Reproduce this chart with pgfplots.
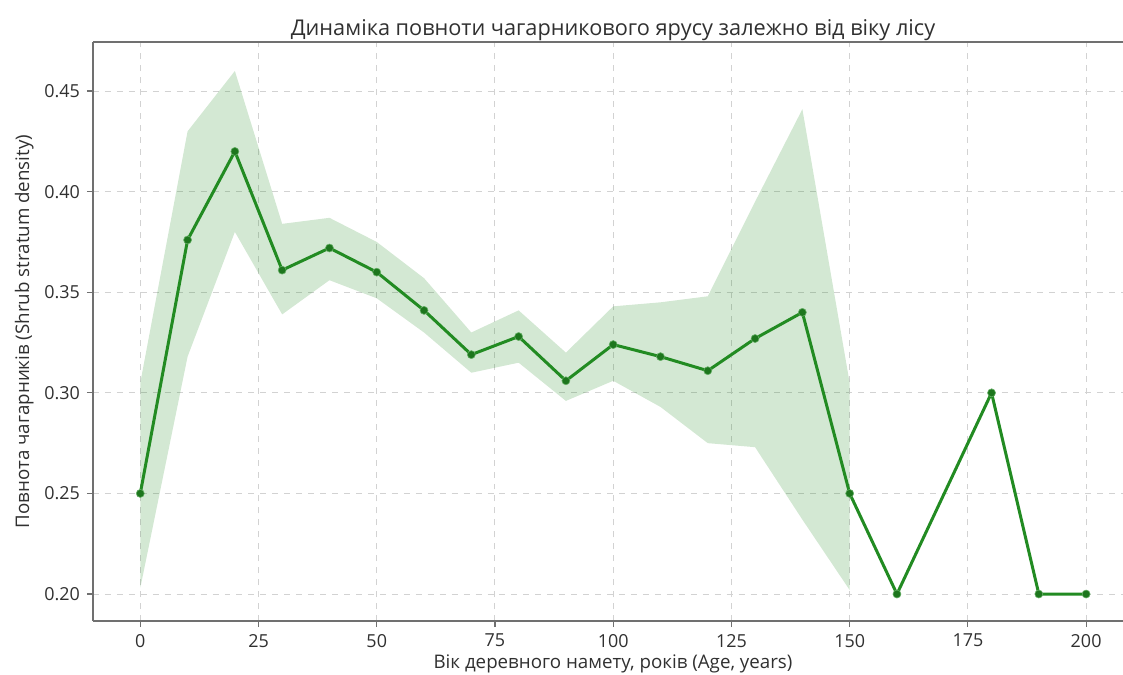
\documentclass[border=0pt]{standalone}
\usepackage{fontspec}
\setmainfont{Open Sans}
\usepackage{pgfplots}
\pgfplotsset{compat=1.18}
\usepgfplotslibrary{fillbetween}
\definecolor{lgreen}{HTML}{228B22}
\definecolor{spine}{HTML}{707070}
\definecolor{txt}{HTML}{303030}
\begin{document}
\begin{tikzpicture}[x=1bp,y=1bp]
\begin{axis}[
  at={(0,0)}, anchor=south west,
  scale only axis,
  width=515bp, height=289.5bp,
  xmin=-10, xmax=207.8,
  ymin=0.1866, ymax=0.4744,
  axis lines*=left,
  xtick={0,25,50,75,100,125,150,175,200},
  ytick={0.20,0.25,0.30,0.35,0.40,0.45},
  yticklabel style={/pgf/number format/.cd, fixed, fixed zerofill, precision=2},
  /pgf/number format/assume math mode=true,
  tick label style={font=\fontsize{9}{11}\selectfont, text=txt},
  tick align=outside, tick pos=left,
  major tick length=3bp,
  every tick/.style={spine, line width=0.6bp},
  axis line style={spine, line width=1bp, -},
  grid=major,
  major grid style={dashed, gray!35, line width=0.5bp},
  title={Динаміка повноти чагарникового ярусу залежно від віку лісу},
  title style={font=\fontsize{10.9}{12}\selectfont, text=txt, at={(0.5,1)}, anchor=south, yshift=-9bp, xshift=2.5bp},
  xlabel={Вік деревного намету, років (Age, years)},
  ylabel={Повнота чагарників (Shrub stratum density)},
  label style={font=\fontsize{9.4}{11}\selectfont, text=txt},
  xlabel style={yshift=3bp, xshift=2.5bp},
  ylabel style={yshift=-1.5bp},
]
\draw[spine, line width=1bp] (rel axis cs:0,1) -- (rel axis cs:1,1);
\addplot[name path=upper, draw=none, forget plot] coordinates {
(0,0.305) (10,0.430) (20,0.460) (30,0.384) (40,0.387) (50,0.375) (60,0.357) (70,0.330)
(80,0.341) (90,0.320) (100,0.343) (110,0.345) (120,0.348) (130,0.395) (140,0.441) (150,0.305)};
\addplot[name path=lower, draw=none, forget plot] coordinates {
(0,0.203) (10,0.318) (20,0.380) (30,0.339) (40,0.356) (50,0.347) (60,0.330) (70,0.310)
(80,0.315) (90,0.296) (100,0.306) (110,0.293) (120,0.275) (130,0.273) (140,0.237) (150,0.202)};
\addplot[lgreen, fill opacity=0.2, draw=none] fill between[of=upper and lower];
\addplot[lgreen, line width=1.5bp, mark=*, mark size=2bp, mark options={fill=lgreen!85!black, draw=lgreen!70!white, line width=0.3bp}] coordinates {
(0,0.250) (10,0.376) (20,0.420) (30,0.361) (40,0.372) (50,0.360) (60,0.341) (70,0.319)
(80,0.328) (90,0.306) (100,0.324) (110,0.318) (120,0.311) (130,0.327) (140,0.340) (150,0.250)
(160,0.200) (180,0.300) (190,0.200) (200,0.200)};
\end{axis}
\pgfresetboundingbox
\path[use as bounding box] (-46.5bp,-27bp) rectangle (515bp,310.5bp);
\end{tikzpicture}
\end{document}
